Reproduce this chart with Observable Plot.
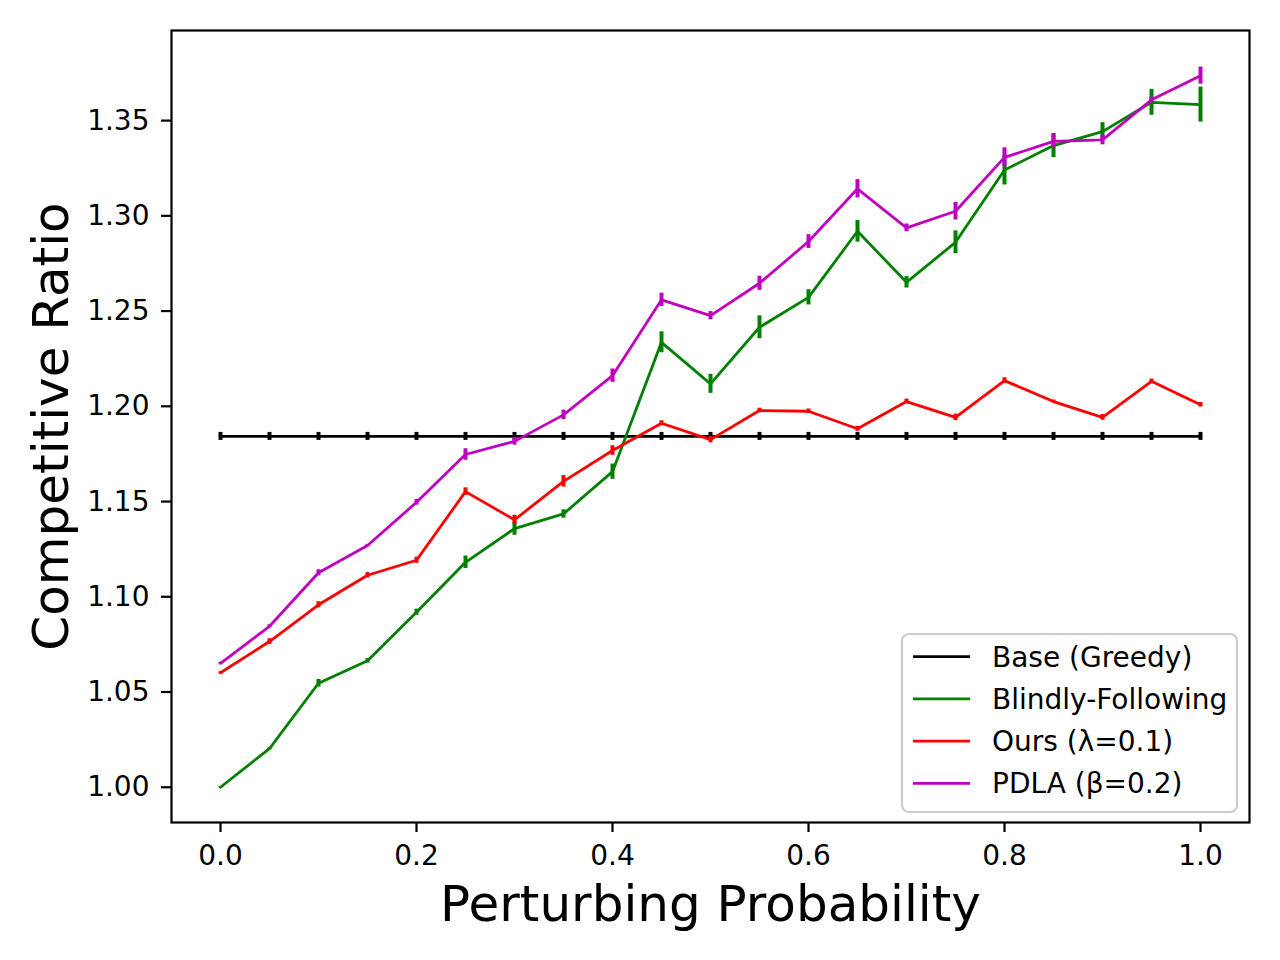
<!DOCTYPE html>
<html><head><meta charset="utf-8">
<script src="https://cdn.jsdelivr.net/npm/d3@7"></script>
<script src="https://cdn.jsdelivr.net/npm/@observablehq/plot@0.6"></script>
<style>body{margin:0;background:#fff} #chart{position:relative;width:1280px;height:960px}</style>
</head><body><div id="chart"></div>
<script>
const probs = [0.00,0.05,0.10,0.15,0.20,0.25,0.30,0.35,0.40,0.45,0.50,0.55,0.60,0.65,0.70,0.75,0.80,0.85,0.90,0.95,1.00];
const xTicks = [0.0,0.2,0.4,0.6,0.8,1.0];
const yTicks = [1.00,1.05,1.10,1.15,1.20,1.25,1.30,1.35];
const seriesNames = ["Base (Greedy)","Blindly-Following","Ours (λ=0.1)","PDLA (β=0.2)"];
const seriesColors = ["#000000","#008000","#ff0000","#bf00bf"];
const xLabel = "Perturbing Probability";
const yLabel = "Competitive Ratio";

const baseVals = [1.1842,1.1842,1.1842,1.1842,1.1842,1.1842,1.1842,1.1842,1.1842,1.1842,1.1842,1.1842,1.1842,1.1842,1.1842,1.1842,1.1842,1.1842,1.1842,1.1842,1.1842];
const baseErr  = [0.0021,0.0021,0.0021,0.0021,0.0021,0.0021,0.0021,0.0021,0.0021,0.0021,0.0021,0.0021,0.0021,0.0021,0.0021,0.0021,0.0021,0.0021,0.0021,0.0021,0.0021];
const blindVals = [1.0000,1.0203,1.0546,1.0664,1.0919,1.1181,1.1358,1.1435,1.1657,1.2336,1.2118,1.2415,1.2572,1.2919,1.2651,1.2861,1.3241,1.3369,1.3442,1.3596,1.3584];
const blindErr  = [0.0003,0.0005,0.0020,0.0012,0.0016,0.0033,0.0035,0.0022,0.0040,0.0055,0.0050,0.0060,0.0040,0.0057,0.0030,0.0060,0.0079,0.0063,0.0047,0.0068,0.0092];
const oursVals = [1.0601,1.0765,1.0958,1.1113,1.1192,1.1552,1.1404,1.1606,1.1768,1.1911,1.1825,1.1978,1.1974,1.1882,1.2025,1.1942,1.2135,1.2025,1.1942,1.2131,1.2008];
const oursErr  = [0.0005,0.0015,0.0016,0.0014,0.0016,0.0020,0.0024,0.0030,0.0025,0.0013,0.0017,0.0012,0.0012,0.0013,0.0013,0.0017,0.0015,0.0008,0.0015,0.0012,0.0012];
const pdlaVals = [1.0651,1.0845,1.1126,1.1269,1.1496,1.1747,1.1816,1.1955,1.2161,1.2559,1.2476,1.2646,1.2865,1.3142,1.2937,1.3024,1.3307,1.3391,1.3399,1.3609,1.3736];
const pdlaErr  = [0.0005,0.0008,0.0016,0.0006,0.0015,0.0030,0.0020,0.0025,0.0035,0.0035,0.0022,0.0037,0.0036,0.0048,0.0020,0.0046,0.0050,0.0037,0.0026,0.0015,0.0045];

const allVals = [baseVals, blindVals, oursVals, pdlaVals];
const allErrs = [baseErr, blindErr, oursErr, pdlaErr];

const seriesMarks = [];
seriesNames.forEach((name, s) => {
  const rows = probs.map((p, i) => ({p, v: allVals[s][i], e: allErrs[s][i]}));
  seriesMarks.push(Plot.line(rows, {x: "p", y: "v", stroke: seriesColors[s], strokeWidth: 2.8}));
  seriesMarks.push(Plot.ruleX(rows, {x: "p", y1: d => d.v - d.e, y2: d => d.v + d.e, stroke: seriesColors[s], strokeWidth: 4, strokeLinecap: "butt"}));
});

const chart = Plot.plot({
  width: 1280, height: 960,
  marginLeft: 171, marginRight: 31, marginTop: 30, marginBottom: 138,
  style: {fontFamily: "DejaVu Sans", background: "white", color: "black"},
  x: {domain: [-0.05, 1.05]},
  y: {domain: [0.9815, 1.3973]},
  marks: [
    ...seriesMarks,
    Plot.frame({stroke: "black", strokeWidth: 2.2}),
    Plot.axisX({ticks: xTicks, tickFormat: d3.format(".1f"), tickSize: 10, tickPadding: 13, fontSize: 28, strokeWidth: 2.2, label: null}),
    Plot.axisY({ticks: yTicks, tickFormat: d3.format(".2f"), tickSize: 10, tickPadding: 12, fontSize: 28, strokeWidth: 2.2, label: null}),
    Plot.text([xLabel], {text: d => d, frameAnchor: "bottom", dy: 82, fontSize: 50, lineAnchor: "middle", textAnchor: "middle"}),
    Plot.text([yLabel], {text: d => d, frameAnchor: "left", dx: -120, rotate: -90, fontSize: 50, lineAnchor: "middle", textAnchor: "middle"})
  ]
});
document.getElementById("chart").appendChild(chart);

// legend box inside the axes, lower right
const svg = d3.select(chart);
const g = svg.append("g").attr("text-anchor", "start");
g.append("rect").attr("x", 902).attr("y", 634).attr("width", 335).attr("height", 178).attr("rx", 7)
  .attr("fill", "white").attr("fill-opacity", 0.8).attr("stroke", "#cccccc").attr("stroke-width", 2.2);
seriesNames.forEach((n, i) => {
  const cy = 656.7 + 42.2 * i;
  g.append("line").attr("x1", 913).attr("x2", 970).attr("y1", cy).attr("y2", cy)
    .attr("stroke", seriesColors[i]).attr("stroke-width", 2.8);
  g.append("text").attr("x", 992).attr("y", cy + 10).attr("font-size", 28)
    .attr("text-anchor", "start").attr("font-family", "DejaVu Sans").attr("fill", "black").text(n);
});
</script></body></html>
